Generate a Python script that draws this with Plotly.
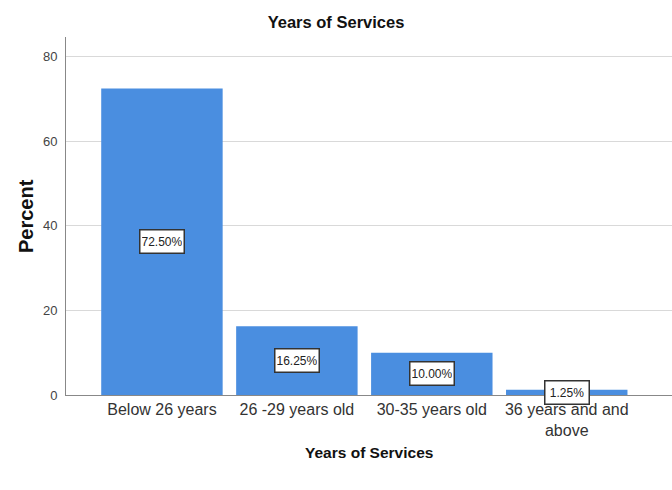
import plotly.graph_objects as go

categories = ["Below 26 years", "26 -29 years old", "30-35 years old", "36 years and and<br>above"]
percent = [72.50, 16.25, 10.00, 1.25]
label_text = ["72.50%", "16.25%", "10.00%", "1.25%"]
y_ticks = [0, 20, 40, 60, 80]

bar_color = "#4a8ee0"
font_family = "Liberation Sans, Arial, sans-serif"

fig = go.Figure()
fig.add_trace(go.Bar(
    x=list(range(len(categories))),
    y=percent,
    marker=dict(color=bar_color, line=dict(width=0)),
    width=0.9,
    hoverinfo="skip",
))

for i, (v, t) in enumerate(zip(percent, label_text)):
    fig.add_annotation(
        x=i, y=v / 2, text=t, showarrow=False,
        font=dict(family=font_family, size=12, color="#222222"),
        width=40, height=19,
        bgcolor="white", bordercolor="#333333", borderwidth=1.5, borderpad=1.5,
    )

# axis titles placed as annotations (paper coordinates)
fig.add_annotation(
    xref="paper", yref="paper", x=(26 - 66) / 606, y=0.5, xanchor="center", yanchor="middle",
    text="<b>Percent</b>", textangle=-90, showarrow=False,
    font=dict(family=font_family, size=20, color="#111111"),
)
fig.add_annotation(
    xref="paper", yref="paper", x=0.5, y=(395 - 452) / 358, xanchor="center", yanchor="middle",
    text="<b>Years of Services</b>", showarrow=False,
    font=dict(family=font_family, size=15.5, color="#111111"),
)

fig.update_layout(
    width=672, height=490,
    margin=dict(l=66, r=0, t=37, b=95),
    paper_bgcolor="white", plot_bgcolor="white",
    showlegend=False,
    title=dict(text="<b>Years of Services</b>", x=0.5, xanchor="center", y=1 - 22 / 490, yanchor="middle",
               font=dict(family=font_family, size=16.5, color="#111111")),
    font=dict(family=font_family, color="#333333"),
    bargap=0.1,
)

fig.update_xaxes(
    range=[-0.711, 3.78],
    tickmode="array", tickvals=list(range(len(categories))), ticktext=categories,
    tickfont=dict(family=font_family, size=16, color="#333333"),
    tickangle=0,
    showgrid=False, zeroline=False,
    showline=True, linecolor="#888888", linewidth=1,
    ticks="", automargin=False,
)
fig.update_yaxes(
    range=[0, 84.7],
    tickmode="array", tickvals=y_ticks,
    tickfont=dict(family=font_family, size=13, color="#444444"),
    showgrid=True, gridcolor="#d9d9d9", gridwidth=1,
    zeroline=False,
    showline=True, linecolor="#888888", linewidth=1,
    ticks="", ticklabelstandoff=5, automargin=False,
)

fig.write_html("out.html", config={"displayModeBar": False},
               post_script="document.body.style.margin='0';")
